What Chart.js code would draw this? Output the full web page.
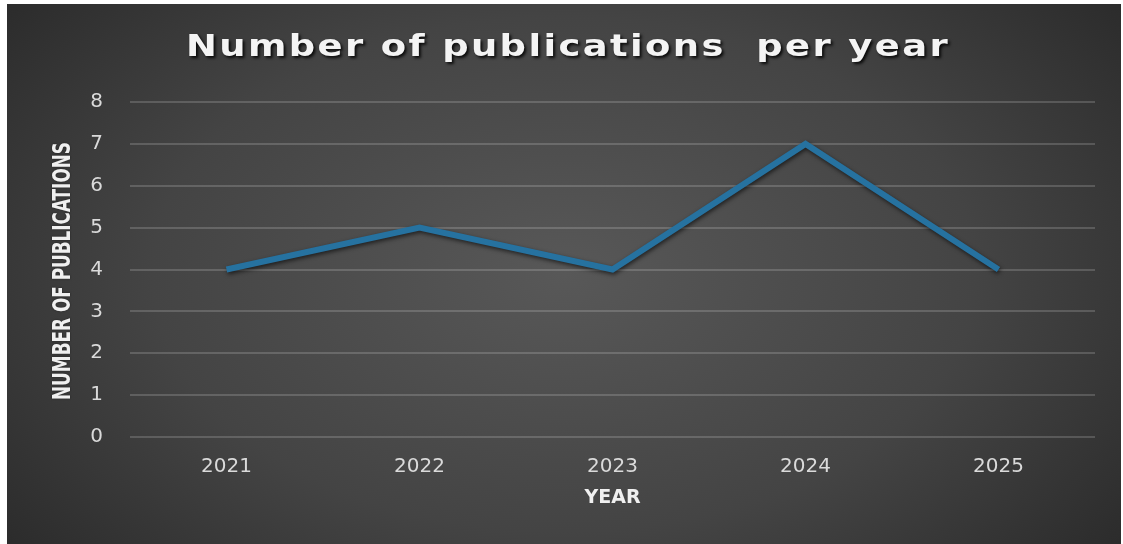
<!DOCTYPE html>
<html>
<head>
<meta charset="utf-8">
<script src="https://cdn.jsdelivr.net/npm/chart.js@4.4.1/dist/chart.umd.min.js"></script>
<style>
  html, body { margin: 0; padding: 0; background: #fff; }
  #wrap { position: absolute; left: 7px; top: 4px; width: 1114px; height: 540px; }
</style>
</head>
<body>
<div id="wrap"><canvas id="pubChart"></canvas></div>
<script>
  // chart data
  var years = ["2021", "2022", "2023", "2024", "2025"];
  var publications = [4, 5, 4, 7, 4];
  var chartTitle = "Number of publications  per year";
  var yTitle = "NUMBER OF PUBLICATIONS";

  // draws text stretched/squeezed along its run so it spans `len` px
  function fitText(ctx, text, len) {
    var w = ctx.measureText(text).width;
    ctx.scale(len / w, 1);
    ctx.fillText(text, 0, 0);
  }

  // dark radial background, line shadow, title texts
  var backdrop = {
    id: 'backdrop',
    beforeDraw: function (chart) {
      var ctx = chart.ctx, w = chart.width, h = chart.height;
      ctx.save();
      ctx.translate(w * 0.5, h * 0.5);
      ctx.scale(1.6, 1);
      var g = ctx.createRadialGradient(0, 0, 0, 0, 0, w * 0.42);
      g.addColorStop(0, '#585858');
      g.addColorStop(0.55, '#444444');
      g.addColorStop(1, '#282828');
      ctx.fillStyle = g;
      ctx.fillRect(-w, -h, w * 2, h * 2);
      ctx.restore();
    },
    beforeDatasetsDraw: function (chart) {
      chart.ctx.save();
      chart.ctx.shadowColor = 'rgba(0,0,0,0.6)';
      chart.ctx.shadowBlur = 4;
      chart.ctx.shadowOffsetX = 1;
      chart.ctx.shadowOffsetY = 2;
    },
    afterDatasetsDraw: function (chart) {
      chart.ctx.restore();
    },
    afterDraw: function (chart) {
      var ctx = chart.ctx;
      // main title
      ctx.save();
      ctx.font = 'bold 31px "DejaVu Sans", Verdana, sans-serif';
      ctx.letterSpacing = '2px';
      ctx.textAlign = 'center';
      ctx.textBaseline = 'alphabetic';
      ctx.shadowColor = 'rgba(0,0,0,0.85)';
      ctx.shadowBlur = 3;
      ctx.shadowOffsetX = 2;
      ctx.shadowOffsetY = 2;
      ctx.fillStyle = '#f4f4f4';
      ctx.translate(561, 52);
      fitText(ctx, chartTitle, 764);
      ctx.restore();

      // y axis title
      ctx.save();
      ctx.font = 'bold 24px "DejaVu Sans Condensed", "DejaVu Sans", sans-serif';
      ctx.textAlign = 'center';
      ctx.textBaseline = 'middle';
      ctx.fillStyle = '#f0f0f0';
      ctx.shadowColor = 'rgba(0,0,0,0.5)';
      ctx.shadowBlur = 2;
      ctx.translate(57, 267);
      ctx.rotate(-Math.PI / 2);
      fitText(ctx, yTitle, 258);
      ctx.restore();
    }
  };

  var ctx = document.getElementById('pubChart').getContext('2d');

  var pubChart = new Chart(ctx, {
    type: 'line',
    data: {
      labels: years,
      datasets: [{
        data: publications,
        borderColor: '#2672a0',
        borderWidth: 6,
        pointRadius: 0,
        tension: 0,
        fill: false
      }]
    },
    options: {
      responsive: true,
      maintainAspectRatio: false,
      animation: false,
      layout: { padding: { top: 98, right: 26, bottom: 31, left: 0 } },
      plugins: {
        legend: { display: false },
        title: { display: false },
        tooltip: { enabled: false }
      },
      scales: {
        x: {
          offset: true,
          grid: { display: false, drawTicks: false },
          border: { display: false },
          ticks: {
            color: '#dadada',
            padding: 18,
            font: { family: '"DejaVu Sans", sans-serif', size: 20 }
          },
          title: {
            display: true,
            text: 'YEAR',
            color: '#f0f0f0',
            font: { family: '"DejaVu Sans", sans-serif', size: 19, weight: 'bold' }
          },
          afterFit: function (scale) { scale.height = 76; }
        },
        y: {
          min: 0,
          max: 8,
          ticks: {
            stepSize: 1,
            color: '#dadada',
            padding: 27,
            font: { family: '"DejaVu Sans", sans-serif', size: 20 }
          },
          grid: { color: 'rgba(255,255,255,0.17)', lineWidth: 2, drawTicks: false },
          border: { display: false },
          afterFit: function (scale) { scale.width = 123; }
        }
      }
    },
    plugins: [backdrop]
  });
</script>
</body>
</html>
